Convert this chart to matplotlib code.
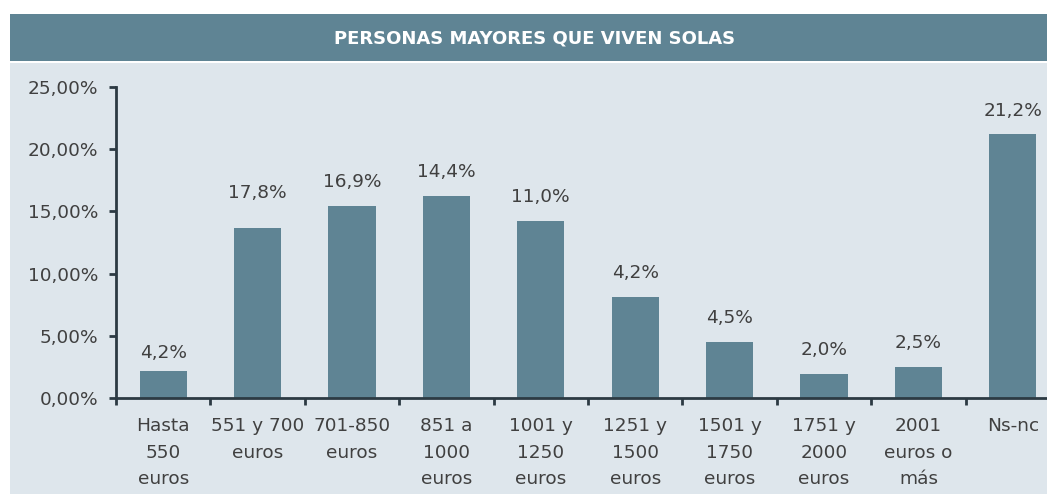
import matplotlib
matplotlib.use("Agg")
import matplotlib.pyplot as plt
from matplotlib.patches import Rectangle

plt.rcParams["font.family"] = ["DejaVu Sans"]

categories = ["Hasta\n550\neuros", "551 y 700\neuros", "701-850\neuros", "851 a\n1000\neuros",
              "1001 y\n1250\neuros", "1251 y\n1500\neuros", "1501 y\n1750\neuros",
              "1751 y\n2000\neuros", "2001\neuros o\nmás", "Ns-nc"]
values = [2.2, 13.7, 15.4, 16.2, 14.25, 8.1, 4.47, 1.93, 2.5, 21.25]
labels = ["4,2%", "17,8%", "16,9%", "14,4%", "11,0%", "4,2%", "4,5%", "2,0%", "2,5%", "21,2%"]
yticks = [0, 5, 10, 15, 20, 25]
ytick_labels = ["0,00%", "5,00%", "10,00%", "15,00%", "20,00%", "25,00%"]
title = "PERSONAS MAYORES QUE VIVEN SOLAS"

label_offsets_px = [18, 35, 24, 24, 24, 24, 24, 24, 24, 23]

W, H = 1047, 497
fig = plt.figure(figsize=(W / 100, H / 100), dpi=100)
fig.patch.set_facecolor("white")

band = "#5F8494"
bg = "#DEE6EC"
txt = "#404040"
spine = "#2C3A43"
fs = 13.3

fig.patches.append(Rectangle((10 / W, 1 - 61 / H), 1, 47 / H, transform=fig.transFigure,
                             facecolor=band, edgecolor="none", zorder=-10))
fig.patches.append(Rectangle((10 / W, 1 - 494 / H), 1, (494 - 63) / H, transform=fig.transFigure,
                             facecolor=bg, edgecolor="none", zorder=-10))
fig.text(535 / W, 1 - 38 / H, title, ha="center", va="center", color="white",
         fontsize=13, fontweight="bold")

x0, y0, ytop = 116, 398, 87
axw = 944
ax = fig.add_axes([x0 / W, 1 - y0 / H, axw / W, (y0 - ytop) / H])
ax.patch.set_visible(False)
xs = list(range(len(categories)))
ax.bar(xs, values, width=0.5, color=band, zorder=2)
ax.set_xlim(-0.5, len(categories) - 0.5)
ax.set_ylim(0, 25)

for x, v, lab, off in zip(xs, values, labels, label_offsets_px):
    ax.annotate(lab, (x, v), xytext=(0, off * 0.72), textcoords="offset points",
                ha="center", va="center", fontsize=fs, color=txt)

ax.set_yticks(yticks)
ax.set_yticklabels(ytick_labels)
ax.set_xticks([x - 0.5 for x in xs] + [len(xs) - 0.5])
ax.set_xticklabels([])
ax.set_xticks(xs, minor=True)
ax.set_xticklabels(categories, minor=True, fontsize=fs, color=txt, linespacing=1.6)
ax.tick_params(axis="x", which="minor", length=0, pad=14)
ax.tick_params(axis="x", which="major", length=5, width=2, color=spine, direction="out")
ax.tick_params(axis="y", length=5, width=2, color=spine, labelsize=fs, labelcolor=txt, pad=8)

for s in ["top", "right"]:
    ax.spines[s].set_visible(False)
for s in ["left", "bottom"]:
    ax.spines[s].set_color(spine)
    ax.spines[s].set_linewidth(2)

fig.savefig("out.png", dpi=100)
